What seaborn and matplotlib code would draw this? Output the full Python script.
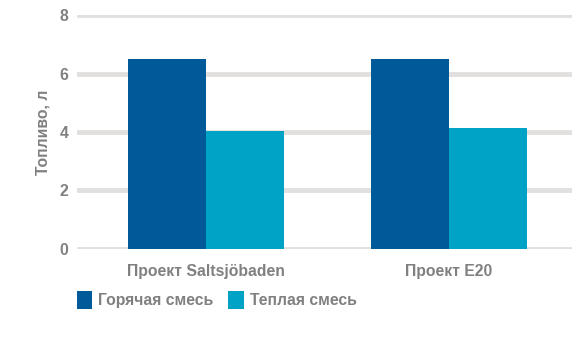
import pandas as pd
import matplotlib
matplotlib.use("Agg")
import matplotlib.pyplot as plt
import seaborn as sns
from matplotlib.patches import Patch

# --- Dados ---
projects = ["Проект Saltsjöbaden", "Проект E20"]
series = ["Горячая смесь", "Теплая смесь"]
hot_values = [6.5, 6.5]
warm_values = [4.05, 4.12]
colors = ["#005a9a", "#00a2c6"]

df = pd.DataFrame({
    "project": projects * 2,
    "mix": [series[0]] * 2 + [series[1]] * 2,
    "fuel": hot_values + warm_values,
})

sns.set_theme(style="white")
plt.rcParams['font.family'] = ['Liberation Sans', 'DejaVu Sans']

fig = plt.figure(figsize=(5.83, 3.51), dpi=100)
ax = fig.add_axes([0.132, 0.291, 0.849, 0.666])

sns.barplot(data=df, x="project", y="fuel", hue="mix", palette=colors,
            width=0.64, saturation=1, ax=ax, legend=False, zorder=3,
            linewidth=0, edgecolor="none")

ax.set_ylim(0, 8)
ax.set_xlim(-0.531, 1.506)
ax.set_yticks([0, 2, 4, 6, 8])
ax.yaxis.grid(True, color="#e1e0de", linewidth=3.5, zorder=0)
ax.set_axisbelow(True)
for s in ax.spines.values():
    s.set_visible(False)

grey = "#808080"
fs = 11.3
ax.tick_params(axis="both", length=0, colors=grey, labelsize=fs)
ax.tick_params(axis="y", pad=6)
ax.tick_params(axis="x", pad=11)
for lab in ax.get_xticklabels() + ax.get_yticklabels():
    lab.set_fontweight("bold")
    lab.set_color(grey)

ax.set_xlabel("")
ax.set_ylabel("Топливо, л", color=grey, fontsize=fs, fontweight="bold", labelpad=7)

handles = [Patch(facecolor=c, edgecolor="none") for c in colors]
fig.legend(handles, series, loc="lower left", bbox_to_anchor=(0.107, 0.08),
           ncol=2, frameon=False, handlelength=1.0, handleheight=1.4,
           handletextpad=0.4, columnspacing=0.9,
           prop={"weight": "bold", "size": fs}, labelcolor=grey)

fig.savefig("out.png", dpi=100)
